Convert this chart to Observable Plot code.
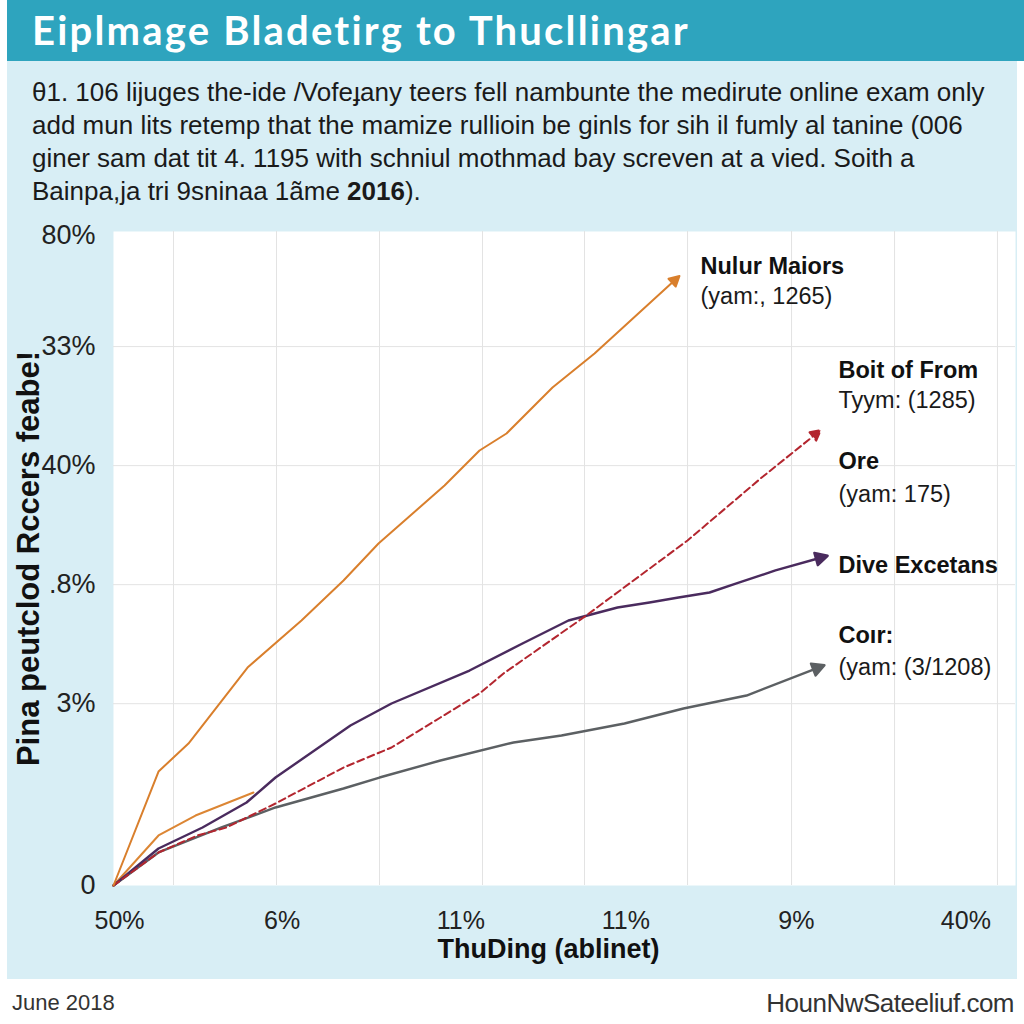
<!DOCTYPE html>
<html>
<head>
<meta charset="utf-8">
<script src="https://cdn.jsdelivr.net/npm/d3@7"></script>
<script src="https://cdn.jsdelivr.net/npm/@observablehq/plot@0.6"></script>
<style>
  html, body { margin: 0; padding: 0; background: #ffffff; }
  #root { position: relative; width: 1024px; height: 1024px; overflow: hidden; font-family: "Liberation Sans", Arial, sans-serif; }
  #titlebar { position: absolute; left: 7px; top: 0; width: 1017px; height: 61px; background: #2ea4be; }
  #title { position: absolute; left: 32px; top: 0; height: 61px; line-height: 60px; color: #ffffff; font-family: Lato, "Open Sans", sans-serif; font-weight: 700; font-size: 40px; letter-spacing: 2.2px; white-space: nowrap; }
  #panel { position: absolute; left: 7px; top: 61px; width: 1010px; height: 918px; background: #d8eef5; }
  #subtitle { position: absolute; left: 32px; top: 76px; width: 985px; font-size: 26px; line-height: 33px; color: #1a1a1a; white-space: nowrap; }
  #chart { position: absolute; left: 0; top: 200px; }
  #footL { position: absolute; left: 12px; top: 990px; font-size: 22px; color: #333; }
  #footR { position: absolute; right: 10px; top: 988px; font-size: 26px; color: #333; letter-spacing: -0.5px; }
</style>
</head>
<body>
<div id="root">
  <div id="titlebar"></div>
  <div id="title"></div>
  <div id="panel"></div>
  <div id="subtitle"></div>
  <div id="chart"></div>
  <div id="footL"></div>
  <div id="footR"></div>
</div>
<script>
// ---- text ----
const titleText = "Eiplmage Bladetirg to Thucllingar";
const subtitleLines = [
  "θ1. 106 lijuges the-ide /Vofeɟany teers fell nambunte the medirute online exam only",
  "add mun lits retemp that the mamize rullioin be ginls for sih il fumly al tanine (006",
  "giner sam dat tit 4. 1195 with schniul mothmad bay screven at a vied. Soith a",
  "Bainpa,ja tri 9sninaa 1ãme <b>2016</b>)."
];
const footLeft = "June 2018";
const footRight = "HounNwSateeliuf.com";
const yTitle = "Pina peutclod Rccers feabe!";
const xTitle = "ThuDing (ablinet)";

// ---- axes ----
const xTickVals = [0.67, 18.7, 38.5, 56.8, 75.7, 94.5];
const xTickLabels = ["50%", "6%", "11%", "11%", "9%", "40%"];
const yTickVals = [0, 27.8, 46.0, 64.2, 82.4, 99.4];
const yTickLabels = ["0", "3%", ".8%", "40%", "33%", "80%"];
const xGridVals = [6.65, 18.07, 29.49, 40.91, 52.22, 63.64, 75.17, 86.59, 98.0];
const yGridVals = [27.8, 46.0, 64.2, 82.4];

// ---- series ----
const orangeX = [0, 4.99, 8.31, 14.86, 20.84, 25.5, 29.38, 36.7, 40.58, 43.57, 48.67, 53.33, 62.31];
const orangeY = [0, 17.43, 21.71, 33.33, 40.52, 46.64, 52.29, 61.16, 66.51, 69.11, 76.15, 81.35, 92.66];
const orange2X = [0, 4.99, 9.09, 15.52];
const orange2Y = [0, 7.65, 10.70, 14.22];
const purpleX = [0, 4.99, 9.87, 14.75, 17.96, 26.27, 30.82, 39.47, 45.34, 50.44, 55.88, 59.42, 62.64, 66.08, 69.07, 73.39, 78.49];
const purpleY = [0, 5.66, 8.87, 12.69, 16.51, 24.46, 27.83, 32.87, 37.0, 40.52, 42.51, 43.27, 44.04, 44.8, 46.18, 48.17, 50.15];
const redX = [0, 4.99, 9.31, 12.53, 17.96, 25.5, 30.82, 36.25, 40.58, 43.24, 52.11, 63.64, 71.73, 77.94];
const redY = [0, 5.05, 7.65, 8.87, 12.54, 18.04, 21.1, 25.69, 29.36, 32.42, 40.98, 52.75, 62.23, 69.11];
const greyX = [0, 4.99, 11.97, 17.96, 25.5, 29.49, 36.25, 44.35, 49.67, 56.65, 63.19, 70.18, 78.16];
const greyY = [0, 5.05, 8.87, 11.93, 14.83, 16.51, 19.11, 21.87, 22.94, 24.77, 27.06, 29.05, 33.33];

// ---- series labels ----
const labelNames = ["Nulur Maiors", "Boit of From", "Ore", "Dive Excetans", "Coır:"];
const labelNameX = [65.08, 80.38, 80.38, 80.38, 80.38];
const labelNameY = [94.65, 78.75, 64.83, 48.93, 38.23];
const labelSubs = ["(yam:, 1265)", "Tyym: (1285)", "(yam: 175)", "(yam: (3/1208)"];
const labelSubX = [65.08, 80.38, 80.38, 80.38];
const labelSubY = [90.06, 74.16, 59.79, 33.33];

document.getElementById("title").textContent = titleText;
document.getElementById("subtitle").innerHTML = subtitleLines.join("<br>");
document.getElementById("footL").textContent = footLeft;
document.getElementById("footR").textContent = footRight;

const pts = (xs, ys) => xs.map((x, i) => ({x, y: ys[i]}));
const xMap = new Map(xTickVals.map((v, i) => [v, xTickLabels[i]]));
const yMap = new Map(yTickVals.map((v, i) => [v, yTickLabels[i]]));
const gridStyle = {stroke: "#e3e3e3", strokeOpacity: 1, strokeWidth: 1};

const chart = Plot.plot({
  width: 1024,
  height: 770,
  marginLeft: 113,
  marginRight: 9,
  marginTop: 31,
  marginBottom: 85,
  style: {background: "transparent", fontFamily: "'Liberation Sans', Arial, sans-serif", color: "#222"},
  x: {domain: [0, 100], axis: null},
  y: {domain: [0, 100], axis: null},
  marks: [
    Plot.frame({fill: "white", stroke: "none"}),
    Plot.gridX(xGridVals, gridStyle),
    Plot.gridY(yGridVals, gridStyle),
    Plot.axisY(yTickVals, {tickSize: 0, tickPadding: 18, fontSize: 27, fill: "#222", tickFormat: d => yMap.get(d), label: null}),
    Plot.axisX(xTickVals, {tickSize: 0, tickPadding: 26, fontSize: 25, fill: "#222", tickFormat: d => xMap.get(d), label: null}),
    Plot.line(pts(orange2X, orange2Y), {x: "x", y: "y", stroke: "#dc8634", strokeWidth: 2}),
    Plot.line(pts(greyX, greyY), {x: "x", y: "y", stroke: "#5c6063", strokeWidth: 2.4, markerEnd: "arrow"}),
    Plot.line(pts(purpleX, purpleY), {x: "x", y: "y", stroke: "#4a2b5e", strokeWidth: 2.4, markerEnd: "arrow"}),
    Plot.line(pts(redX, redY), {x: "x", y: "y", stroke: "#b3262f", strokeWidth: 2, strokeDasharray: "7,4", markerEnd: "arrow"}),
    Plot.line(pts(orangeX, orangeY), {x: "x", y: "y", stroke: "#d97f2c", strokeWidth: 2, markerEnd: "arrow"}),
    Plot.text(labelNames, {x: (d, i) => labelNameX[i], y: (d, i) => labelNameY[i], text: d => d, textAnchor: "start", fontSize: 23.5, fontWeight: "bold", fill: "#111"}),
    Plot.text(labelSubs, {x: (d, i) => labelSubX[i], y: (d, i) => labelSubY[i], text: d => d, textAnchor: "start", fontSize: 23.5, fill: "#1a1a1a"}),
    Plot.text([yTitle], {text: d => d, frameAnchor: "left", textAnchor: "middle", dx: -84, rotate: -90, fontSize: 31, fontWeight: "bold", fill: "#111"}),
    Plot.text([xTitle], {text: d => d, frameAnchor: "bottom", dx: -16, dy: 72, fontSize: 27, fontWeight: "bold", fill: "#111"})
  ]
});

// filled arrowheads
chart.querySelectorAll("marker").forEach(m => {
  const c = m.getAttribute("stroke");
  if (c) { m.setAttribute("fill", c); }
  const p = m.querySelector("path");
  if (p) p.setAttribute("d", "M-3.5,-4L4,0L-3.5,4Z");
});

document.getElementById("chart").appendChild(chart);
</script>
</body>
</html>
